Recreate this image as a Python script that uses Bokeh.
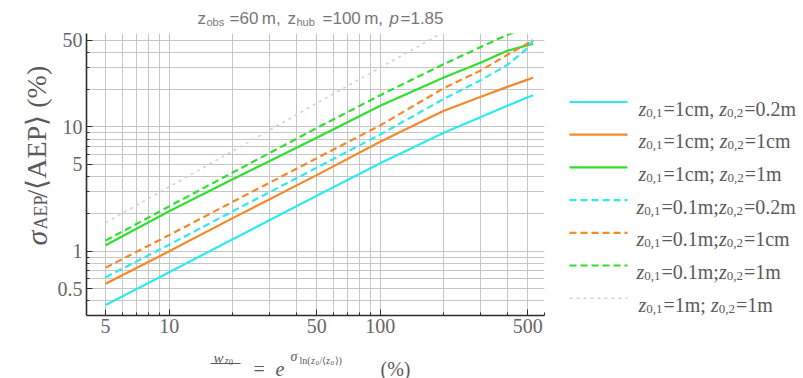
import math
from bokeh.plotting import figure
from bokeh.models import (Range1d, FixedTicker, CustomJSTickFormatter, Label, ColumnDataSource)
from bokeh.layouts import row, column
from bokeh.embed import file_html
from bokeh.resources import INLINE

# ---------------------------------------------------------------- data
# roughness variability w_z0 (%) and relative AEP uncertainty sigma_AEP/<AEP> (%)
w_z0 = [5, 10, 20, 50, 100, 200, 300, 400, 500, 530]
cm1_m02 = [0.37, 0.68, 1.25, 2.8, 5.1, 9.0, 12.0, 14.8, 17.3, 18.0]
cm1_cm1 = [0.55, 1.0, 1.85, 4.1, 7.6, 13.5, 17.5, 21.0, 24.0, 25.0]
cm1_m1 = [1.12, 2.1, 3.8, 8.2, 14.8, 25.0, 33.0, 41.0, 45.5, 46.5]
m01_m02 = [0.62, 1.13, 2.1, 4.7, 8.7, 16.8, 23.8, 31.5, 43.0, 50.0]
m01_cm1 = [0.74, 1.35, 2.5, 5.6, 10.3, 20.5, 28.5, 38.0, 47.0, 50.0]
m01_m1 = [1.22, 2.3, 4.3, 9.8, 18.0, 32.0, 44.0, 55.0, 63.0, 65.0]
w_z0_ref = [5, 10, 20, 50, 100, 200]
m1_m1 = [1.7, 3.3, 6.4, 15.5, 30.0, 58.0]

x_ticks = [5, 10, 50, 100, 500]
y_ticks = [0.5, 1, 5, 10, 50]

# ---------------------------------------------------------------- styles
CYAN, ORANGE, GREEN, GREY = "#2ee9f0", "#f4892a", "#2fe02f", "#d2d2d2"
DASH, DOT = "7 4", "3 4"
series = [
    ("a", cm1_m02, CYAN, "solid", [("z", "i"), ("0,1", "s"), ("=1cm, ", "r"), ("z", "i"), ("0,2", "s"), ("=0.2m", "r")]),
    ("b", cm1_cm1, ORANGE, "solid", [("z", "i"), ("0,1", "s"), ("=1cm; ", "r"), ("z", "i"), ("0,2", "s"), ("=1cm", "r")]),
    ("c", cm1_m1, GREEN, "solid", [("z", "i"), ("0,1", "s"), ("=1cm; ", "r"), ("z", "i"), ("0,2", "s"), ("=1m", "r")]),
    ("d", m01_m02, CYAN, DASH, [("z", "i"), ("0,1", "s"), ("=0.1m;", "r"), ("z", "i"), ("0,2", "s"), ("=0.2m", "r")]),
    ("e", m01_cm1, ORANGE, DASH, [("z", "i"), ("0,1", "s"), ("=0.1m;", "r"), ("z", "i"), ("0,2", "s"), ("=1cm", "r")]),
    ("f", m01_m1, GREEN, DASH, [("z", "i"), ("0,1", "s"), ("=0.1m;", "r"), ("z", "i"), ("0,2", "s"), ("=1m", "r")]),
]
ref_entry = ("g", m1_m1, GREY, DOT, [("z", "i"), ("0,1", "s"), ("=1m; ", "r"), ("z", "i"), ("0,2", "s"), ("=1m", "r")])

SERIF = "Liberation Serif"
SANS = "Liberation Sans"
TEXT = "#5a5a5a"
TITLE = "#777777"

# advance widths (em/1000) of Times-metric glyphs, used to set rich text piece by piece
W_ROMAN = {" ": 250, "(": 333, ")": 333, "%": 833, ",": 250, ".": 250, "/": 278, ";": 278,
           "=": 564, "A": 722, "E": 611, "P": 556, "c": 444, "m": 778, "l": 278, "n": 500,
           "\u27e8": 333, "\u27e9": 333}
W_ITALIC = {"z": 389, "w": 667, "e": 444, "\u03c3": 560}


def advance(s, size, italic=False):
    tab = W_ITALIC if italic else W_ROMAN
    return sum((500 if ch.isdigit() else tab.get(ch, 500)) for ch in s) * size / 1000.0


def text_panel(x0, y0, w, h):
    """A bare figure whose data coordinates are the page pixels it covers."""
    f = figure(width=w, height=h, x_range=Range1d(x0, x0 + w), y_range=Range1d(y0 + h, y0),
               x_axis_location=None, y_axis_location=None, output_backend="svg",
               toolbar_location=None, min_border=0)
    f.grid.visible = False
    f.outline_line_color = None
    f.border_fill_color = "white"
    f.background_fill_color = "white"
    return f


def put(fig, text, x, y, size, italic=False, family=SERIF, color=TEXT, angle=0.0):
    fig.add_layout(Label(x=x, y=y, text=text, text_font=family, text_font_size=f"{size}px",
                         text_font_style="italic" if italic else "normal", text_color=color,
                         text_baseline="alphabetic", text_align="left", angle=angle))


# ---------------------------------------------------------------- main plot
p = figure(width=506, height=314, x_axis_type="log", y_axis_type="log",
           x_range=Range1d(4.06, 600), y_range=Range1d(0.305, 56.4),
           output_backend="svg", toolbar_location=None,
           min_border_left=34, min_border_right=14, min_border_top=5, min_border_bottom=27)
p.outline_line_color = None
p.background_fill_color = "white"
p.border_fill_color = "white"


def minor_list(lo, hi):
    out = []
    for e in range(-2, 4):
        for m in range(1, 10):
            v = round(m * 10 ** e, 6)
            if lo <= v <= hi:
                out.append(v)
    return out


p.xaxis.ticker = FixedTicker(ticks=x_ticks, minor_ticks=minor_list(4.06, 600))
p.yaxis.ticker = FixedTicker(ticks=y_ticks, minor_ticks=minor_list(0.305, 56.4))
fmt = CustomJSTickFormatter(code="return String(Math.round(tick * 10) / 10);")
p.xaxis.formatter = fmt
p.yaxis.formatter = fmt

for ax in (p.xaxis[0], p.yaxis[0]):
    ax.axis_line_color = "#2b2b2b"
    ax.axis_line_width = 1.6
    ax.major_tick_in = 6
    ax.major_tick_out = 0
    ax.minor_tick_in = 3
    ax.minor_tick_out = 0
    ax.major_tick_line_color = "#2b2b2b"
    ax.minor_tick_line_color = "#2b2b2b"
    ax.major_label_text_font = SERIF
    ax.major_label_text_font_size = "20px"
    ax.major_label_text_color = "#666666"
p.xaxis.major_label_standoff = 3
p.yaxis.major_label_standoff = 4

for g in (p.xgrid[0], p.ygrid[0]):
    g.grid_line_color = "#c6c6c6"
    g.grid_line_width = 1
    g.minor_grid_line_color = "#c6c6c6"
    g.minor_grid_line_width = 1

src = ColumnDataSource(dict(w=w_z0, **{key: vals for key, vals, *_ in series}))
src_ref = ColumnDataSource(dict(w=w_z0_ref, g=m1_m1))
p.line("w", "g", source=src_ref, line_color=GREY, line_width=1.6, line_dash=DOT)
for key, vals, color, dash, _ in series:
    p.line("w", key, source=src, line_color=color, line_width=2.2, line_dash=dash)

# ---------------------------------------------------------------- title
top = text_panel(0, 0, 558, 28)
put(top, "z", 197, 18, 17, family=SANS, color=TITLE)
put(top, "obs", 206, 21, 11, family=SANS, color=TITLE)
put(top, "=60\u2009m,", 229, 18, 17, family=SANS, color=TITLE)
put(top, "z", 287, 18, 17, family=SANS, color=TITLE)
put(top, "hub", 296, 21, 11, family=SANS, color=TITLE)
put(top, "=100\u2009m,", 322, 18, 17, family=SANS, color=TITLE)
put(top, "p", 389, 18, 17, italic=True, family=SANS, color=TITLE)
put(top, "=1.85", 400, 18, 17, family=SANS, color=TITLE)

# ---------------------------------------------------------------- y label (reads upwards)
side = text_panel(0, 28, 52, 314)
ang = math.pi / 2
yb = 264
put(side, "\u03c3", 36, yb, 30, italic=True, angle=ang)
yb -= advance("\u03c3", 30, True) + 1
put(side, "AEP", 40, yb, 18, angle=ang)
yb -= advance("AEP", 18) + 1
put(side, "/", 36, yb, 30, angle=ang)
yb -= advance("/", 30) + 1
put(side, "\u27e8AEP\u27e9 (%)", 36, yb, 28, angle=ang)

# ---------------------------------------------------------------- x label
bottom = text_panel(0, 342, 558, 36)
put(bottom, "w", 213, 357, 15, italic=True)
put(bottom, "z", 224, 359, 11, italic=True)
put(bottom, "0", 228.5, 361, 8)
bottom.line([210, 240], [363, 363], line_color=TEXT, line_width=1)
put(bottom, "=", 253, 368, 20)
put(bottom, "e", 275, 368, 20, italic=True)
put(bottom, "\u03c3", 290, 356, 14, italic=True)
xs = 299
for s, sz, dy, it in [("ln(", 10, 0, False), ("z", 10, 0, True), ("0", 7, 2, False),
                      ("/\u27e8", 10, 0, False), ("z", 10, 0, True), ("0", 7, 2, False),
                      ("\u27e9)", 10, 0, False)]:
    put(bottom, s, xs, 360 + dy, sz, italic=it)
    xs += advance(s, sz, it) + 0.5
put(bottom, "(%)", 380, 368, 20)

# ---------------------------------------------------------------- legend panel
lg = text_panel(558, 0, 245, 378)
row_y = 101.5
for key, vals, color, dash, pieces in series + [ref_entry]:
    lg.line([569, 627], [row_y, row_y], line_color=color,
            line_width=1.6 if dash == DOT else 2.2, line_dash=dash)
    x = 638 if pieces[2][0].startswith("=1") else 636
    for s, kind in pieces:
        if kind == "i":
            put(lg, s, x, row_y + 6.5, 20, italic=True)
            x += advance(s, 20, True)
        elif kind == "s":
            put(lg, s, x, row_y + 10.5, 13)
            x += advance(s, 13) + 1
        else:
            put(lg, s, x, row_y + 6.5, 20)
            x += advance(s, 20)
    row_y += 32.7

layout = row(column(top, row(side, p), bottom), lg)
open("out.html", "w").write(file_html(layout, INLINE))
